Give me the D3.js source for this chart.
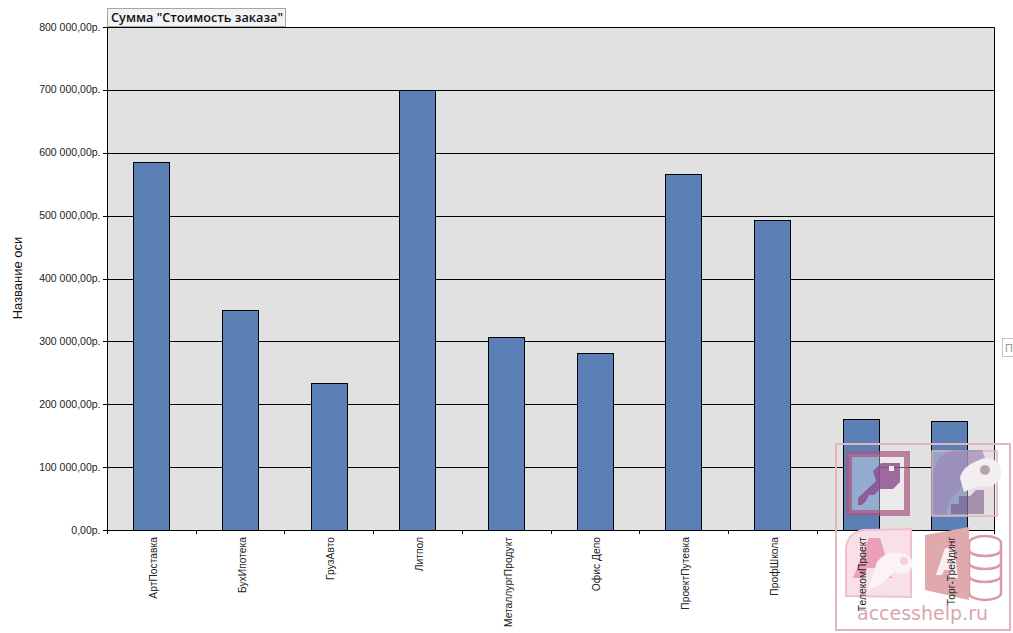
<!DOCTYPE html>
<html><head><meta charset="utf-8">
<script src="https://cdn.jsdelivr.net/npm/d3@7"></script>
<style>html,body{margin:0;padding:0;background:#fff;overflow:hidden}svg{display:block}</style>
</head><body><svg id="c" width="1013" height="633" font-family="'Liberation Sans',Arial,sans-serif"></svg>
<script>
const categories=["АртПоставка","БухИпотека","ГрузАвто","Литпол","МеталлургПродукт","Офис Депо","ПроектПутевка","ПрофШкола","ТелекомПроект","Торг-Трейдинг"];
const orderTotals=[585000,350000,234000,700000,307000,281500,566000,493000,176500,173000];
const yTicks=[0,100000,200000,300000,400000,500000,600000,700000,800000];
const yAxisTitle="Название оси";
const fieldLabel='Сумма "Стоимость заказа"';
const watermarkText="accesshelp.ru";

const svg=d3.select("#c");
const L=107,R=994,T=27,B=530;
const x=d3.scaleBand().domain(categories).range([L,R]).paddingInner(0.6).paddingOuter(0.3);
const xStep=d3.scaleLinear().domain([0,categories.length]).range([L,R]);
const y=d3.scaleLinear().domain([0,800000]).range([B,T]);
const fmt=v=>String(v).replace(/\B(?=(\d{3})+$)/g,"\u00a0")+",00р.";

svg.append("rect").attr("x",L).attr("y",T).attr("width",R-L).attr("height",B-T).attr("fill","#e1e1e1");
svg.append("g").selectAll("line").data(yTicks).join("line")
 .attr("x1",L-4).attr("x2",R).attr("y1",d=>Math.round(y(d))+.5).attr("y2",d=>Math.round(y(d))+.5)
 .attr("stroke","#000").attr("stroke-width",1);
svg.append("g").selectAll("rect").data(orderTotals).join("rect")
 .attr("x",(d,i)=>Math.floor(x(categories[i]))+.5)
 .attr("width",36)
 .attr("y",d=>Math.round(y(d))+.5)
 .attr("height",d=>B-Math.round(y(d)))
 .attr("fill","#5b80b5").attr("stroke","#000").attr("stroke-width",1);
svg.append("path").attr("d",`M${L+.5},${B}V${T+.5}H${R+.5}V${B+.5}`).attr("fill","none").attr("stroke","#000");
svg.append("g").selectAll("line").data(d3.range(categories.length+1)).join("line")
 .attr("x1",d=>Math.round(xStep(d))+.5).attr("x2",d=>Math.round(xStep(d))+.5).attr("y1",B).attr("y2",B+4).attr("stroke","#000");
svg.append("g").selectAll("text").data(yTicks).join("text")
 .attr("x",100.5).attr("y",d=>y(d)+3.5).attr("text-anchor","end").attr("font-size",10.5).attr("fill","#222").text(fmt);
svg.append("text").attr("transform","translate(22,278) rotate(-90)").attr("text-anchor","middle")
 .attr("font-size",13).attr("fill","#111").text(yAxisTitle);

svg.append("rect").attr("x",107.5).attr("y",8.5).attr("width",178).attr("height",18).attr("fill","#f2f3f5").attr("stroke","#a6a6a6");
svg.append("text").attr("x",111).attr("y",22).attr("font-size",13).attr("font-weight",600).attr("font-family","'Open Sans',sans-serif").attr("fill","#111").attr("textLength",172).attr("lengthAdjust","spacingAndGlyphs").text(fieldLabel);
svg.append("rect").attr("x",1002.5).attr("y",338.5).attr("width",14).attr("height",18).attr("fill","#fff").attr("stroke","#c4c4c4");
svg.append("text").attr("x",1005).attr("y",352).attr("font-size",11).attr("fill","#999").text("П");

// watermark
const wm=svg.append("g");
wm.append("rect").attr("x",836).attr("y",444).attr("width",174).attr("height",186).attr("fill","none").attr("stroke","#e3b3c0").attr("stroke-width",2);
wm.append("rect").attr("x",849).attr("y",454).attr("width",58).attr("height",59).attr("fill","#fff").attr("fill-opacity",.35).attr("stroke","#a8547f").attr("stroke-opacity",.7).attr("stroke-width",6);
wm.append("path").attr("d","M873,471 L881,463 L900,463 L900,482 L893,489 L880,489 L874,495 L869,495 L866,501 L862,505 L858,505 L858,498 L876,481 Z").attr("fill","#8a4a8a").attr("fill-opacity",.8);
wm.append("rect").attr("x",889).attr("y",466).attr("width",5).attr("height",5).attr("fill","#eee");
wm.append("rect").attr("x",932).attr("y",451).attr("width",65).attr("height",65).attr("fill","#f3dbe3").attr("fill-opacity",.4).attr("stroke","#e3b3c0").attr("stroke-width",1.5);
wm.append("path").attr("d","M933,514 L933,475 Q936,451 958,450 L982,450 L985,458 L963,475 L960,490 L950,500 L946,514 Z").attr("fill","#9c88b8").attr("fill-opacity",.7);
wm.append("path").attr("d","M951,514 L951,504 L959,504 L959,496 L970,496 L976,490 L984,490 L984,514 Z").attr("fill","#6f4f86").attr("fill-opacity",.55);
wm.append("path").attr("d","M960,478 Q962,465 985,458 Q1002,458 1001,476 Q996,489 978,486 L964,492 Z").attr("fill","#f3eef1");
wm.append("circle").attr("cx",985).attr("cy",470).attr("r",5).attr("fill","#b5a5a8");
wm.append("path").attr("d","M846,596 L846,548 Q848,532 864,530 L911,529 L911,597 Z").attr("fill","#f8dfe8").attr("stroke","#efc0d2").attr("stroke-width",2);
wm.append("path").attr("d","M853,578 L869,538 L880,538 L892,578 L883,578 L880,568 L867,568 L863,578 Z").attr("fill","#e9a0b8");
wm.append("path").attr("d","M877,562 Q886,550 900,553 Q915,556 912,567 Q908,577 895,572 L880,585 L868,590 Z").attr("fill","#fbf3f6");
wm.append("circle").attr("cx",904).attr("cy",561).attr("r",4).attr("fill","#f3d0dc");
wm.append("path").attr("d","M969,543 a16,7 0 0 1 32,0 v50 a16,7 0 0 1 -32,0 Z").attr("fill","#fff").attr("stroke","#d89aab").attr("stroke-width",2.5);
[550,563,576].forEach(v=>wm.append("path").attr("d",`M969,${v} a16,6 0 0 0 32,0`).attr("fill","none").attr("stroke","#d89aab").attr("stroke-width",2.5));
wm.append("path").attr("d","M925,535 L969,527 L969,600 L925,590 Z").attr("fill","#dfa9ad");
wm.append("path").attr("d","M936,575 L945,548 L954,548 L958,578 L950,578 L949,570 L944,570 L942,575 Z").attr("fill","#fbeff1");
wm.append("text").attr("x",857).attr("y",620).attr("font-size",19).attr("font-family","'DejaVu Sans',sans-serif").attr("fill","#d9a6ad").attr("textLength",131).attr("lengthAdjust","spacingAndGlyphs").text(watermarkText);

svg.append("g").selectAll("text").data(categories).join("text")
 .attr("transform",d=>`translate(${x(d)+x.bandwidth()/2+5.5},537) rotate(-90)`)
 .attr("text-anchor","end").attr("font-size",10.3).attr("fill","#222").text(d=>d);
</script></body></html>
